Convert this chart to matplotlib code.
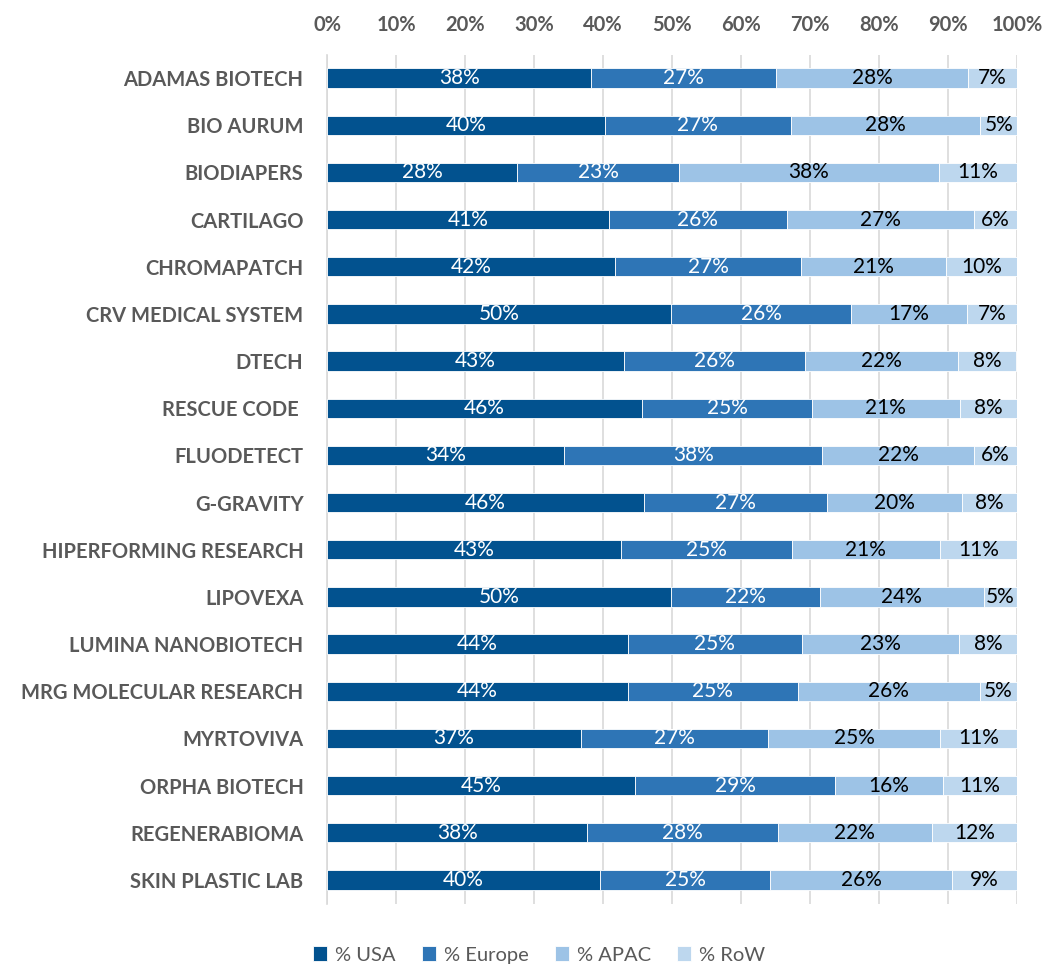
import matplotlib
matplotlib.use("Agg")
import matplotlib.pyplot as plt
import numpy as np
from matplotlib.ticker import PercentFormatter

companies = ["ADAMAS BIOTECH", "BIO AURUM", "BIODIAPERS", "CARTILAGO", "CHROMAPATCH",
             "CRV MEDICAL SYSTEM", "DTECH", "RESCUE CODE ", "FLUODETECT", "G-GRAVITY",
             "HIPERFORMING RESEARCH", "LIPOVEXA", "LUMINA NANOBIOTECH",
             "MRG MOLECULAR RESEARCH", "MYRTOVIVA", "ORPHA BIOTECH", "REGENERABIOMA",
             "SKIN PLASTIC LAB"]
usa = [38.3, 40.3, 27.6, 40.8, 41.8, 49.8, 43.0, 45.7, 34.3, 45.9, 42.6, 49.8, 43.6, 43.6, 36.8, 44.7, 37.7, 39.6]
europe = [26.8, 26.9, 23.4, 25.8, 26.9, 26.2, 26.3, 24.6, 37.5, 26.6, 24.8, 21.6, 25.2, 24.6, 27.1, 28.9, 27.6, 24.6]
apac = [27.8, 27.5, 37.7, 27.1, 21.0, 16.7, 22.2, 21.4, 21.9, 19.6, 21.4, 23.8, 22.8, 26.4, 25.0, 15.7, 22.4, 26.4]
row = [7.1, 5.3, 11.3, 6.3, 10.3, 7.3, 8.4, 8.3, 6.3, 7.9, 11.2, 4.8, 8.4, 5.4, 11.1, 10.7, 12.3, 9.4]
series_names = ["% USA", "% Europe", "% APAC", "% RoW"]
colors = ["#02528F", "#2E75B6", "#9DC3E6", "#BDD7EE"]
label_colors = ["white", "white", "black", "black"]
ticks = list(range(0, 101, 10))

plt.rcParams['font.family'] = ['Lato', 'DejaVu Sans']

fig = plt.figure(figsize=(10.62, 9.67), dpi=100)
ax = fig.add_axes([327/1062, 1-903.5/967, 690/1062, 849/967])

y = np.arange(len(companies))
left = np.zeros(len(companies))
for vals, name, c, lc in zip([usa, europe, apac, row], series_names, colors, label_colors):
    vals = np.array(vals)
    ax.barh(y, vals, left=left, height=0.41, color=c, label=name,
            edgecolor="white", linewidth=0.6, zorder=3)
    for yi, l, v in zip(y, left, vals):
        ax.text(l + v/2, yi, f"{int(v + 0.5)}%", ha="center", va="center",
                color=lc, fontsize=15, zorder=4)
    left = left + vals

ax.set_ylim(len(companies) - 0.5, -0.5)
ax.set_xlim(0, 100)
ax.set_yticks(y)
ax.set_yticklabels(companies, fontsize=14.5, fontweight="bold", color="#595959")
ax.set_xticks(ticks)
ax.xaxis.set_major_formatter(PercentFormatter(100, decimals=0))
ax.xaxis.tick_top()
ax.tick_params(axis="x", labelsize=14.5, colors="#595959", length=0, pad=14)
for t in ax.get_xticklabels():
    t.set_fontweight("bold")
ax.tick_params(axis="y", length=0, pad=17)
ax.grid(axis="x", color="#D9D9D9", linewidth=1.2, zorder=0)
for s in ["top", "right", "bottom"]:
    ax.spines[s].set_visible(False)
ax.spines["left"].set_color("#D9D9D9")
ax.spines["left"].set_linewidth(1.2)

fig.legend(*ax.get_legend_handles_labels(), loc="center", bbox_to_anchor=(539/1062, 1-955/967),
           ncol=4, frameon=False, fontsize=14.5, labelcolor="#595959",
           handlelength=0.7, handleheight=0.7, handletextpad=0.4, columnspacing=1.3)

fig.savefig("out.png", dpi=100)
